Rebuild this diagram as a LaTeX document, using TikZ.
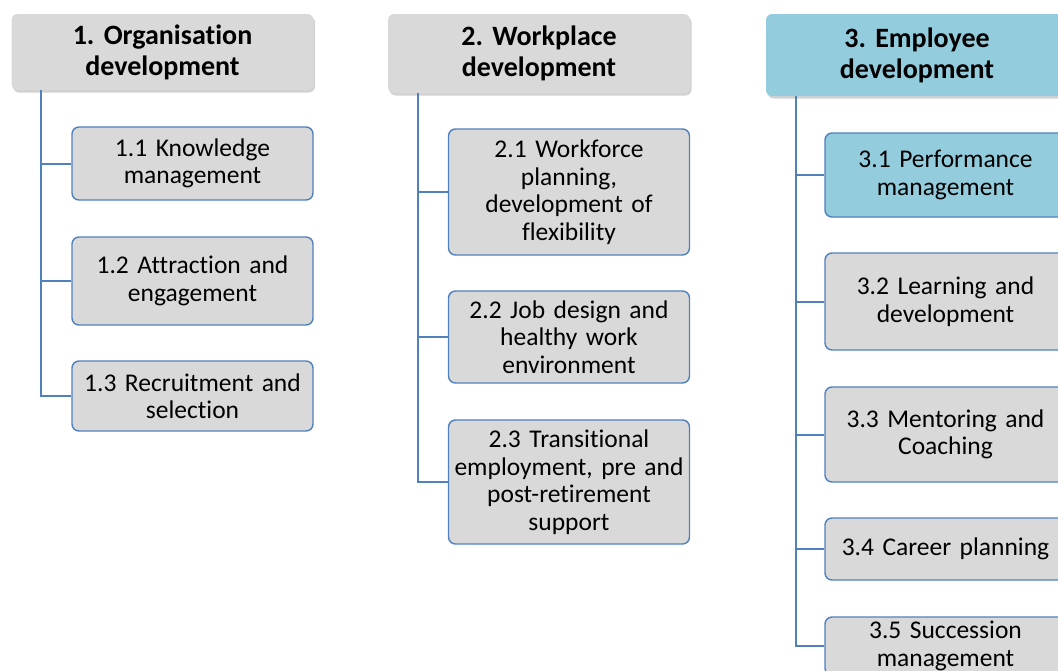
\documentclass[tikz,border=0pt]{standalone}
\usepackage{fontspec}
\setmainfont[WordSpace=0.75,Ligatures=NoCommon]{Carlito}
\usetikzlibrary{shadows}

\definecolor{boxgray}{HTML}{D9D9D9}
\definecolor{boxblue}{HTML}{93CDDD}
\definecolor{lineblue}{HTML}{4F81BD}

\begin{document}
\frenchspacing
\begin{tikzpicture}[x=1pt,y=-1pt,
  head/.style={fill=boxgray, rounded corners=6pt, align=center, text width=296pt,
    minimum width=302pt, inner sep=0pt, font=\fontsize{28}{31}\selectfont\bfseries,
    drop shadow={shadow xshift=1.5pt,shadow yshift=-2.5pt,opacity=0.35}},
  item/.style={draw=lineblue, line width=1.4pt, fill=boxgray, rounded corners=7pt,
    align=center, text width=236pt, minimum width=241pt, inner sep=0pt,
    font=\fontsize{25.5}{27.5}\selectfont},
  link/.style={draw=lineblue, line width=2pt}]
  \useasboundingbox (0,0) rectangle (1058,670);
  \clip (0,0) rectangle (1058,670);
  \fill[white] (0,0) rectangle (1058,670);

  % headers
  \node[head, minimum height=76pt] (h1) at (162.5,52) {1. Organisation\\ development};
  \node[head, minimum height=79pt] (h2) at (539,53.5) {2. Workplace\\ development};
  \node[head, minimum height=82pt, fill=boxblue] (h3) at (917,55) {3. Employee\\ development};

  % column 1
  \node[item, minimum height=73pt] (c11) at (192.5,163.5) {1.1 Knowledge\\ management};
  \node[item, minimum height=88pt] (c12) at (192.5,281) {1.2 Attraction and\\ engagement};
  \node[item, minimum height=70pt] (c13) at (192.5,396) {1.3 Recruitment and\\ selection};

  % column 2
  \node[item, minimum height=126pt] (c21) at (569,192) {2.1 Workforce\\ planning,\\ development of\\ flexibility};
  \node[item, minimum height=92pt] (c22) at (569,337) {2.2 Job design and\\ healthy work\\ environment};
  \node[item, minimum height=124pt] (c23) at (569,482) {2.3 Transitional\\ employment, pre and\\ post-retirement\\ support};

  % column 3
  \node[item, minimum height=84pt, fill=boxblue] (c31) at (945.5,175) {3.1 Performance\\ management};
  \node[item, minimum height=97pt] (c32) at (945.5,301.5) {3.2 Learning and\\ development};
  \node[item, minimum height=95pt] (c33) at (945.5,434.5) {3.3 Mentoring and\\ Coaching};
  \node[item, minimum height=62pt] (c34) at (945.5,549) {3.4 Career planning};
  \node[item, minimum height=58pt] (c35) at (945.5,646) {3.5 Succession\\ management};

  % trunks and branches
  \coordinate (t1) at ([xshift=30pt]h1.south west);
  \coordinate (t2) at ([xshift=30pt]h2.south west);
  \coordinate (t3) at ([xshift=30pt]h3.south west);
  \draw[link] (t1) |- (c13.west);
  \draw[link] (t2) |- (c23.west);
  \draw[link] (t3) |- (c35.west);
  \foreach \c in {c11,c12}
    \draw[link] (t1 |- \c.west) -- (\c.west);
  \foreach \c in {c21,c22}
    \draw[link] (t2 |- \c.west) -- (\c.west);
  \foreach \c in {c31,c32,c33,c34}
    \draw[link] (t3 |- \c.west) -- (\c.west);
\end{tikzpicture}
\end{document}
